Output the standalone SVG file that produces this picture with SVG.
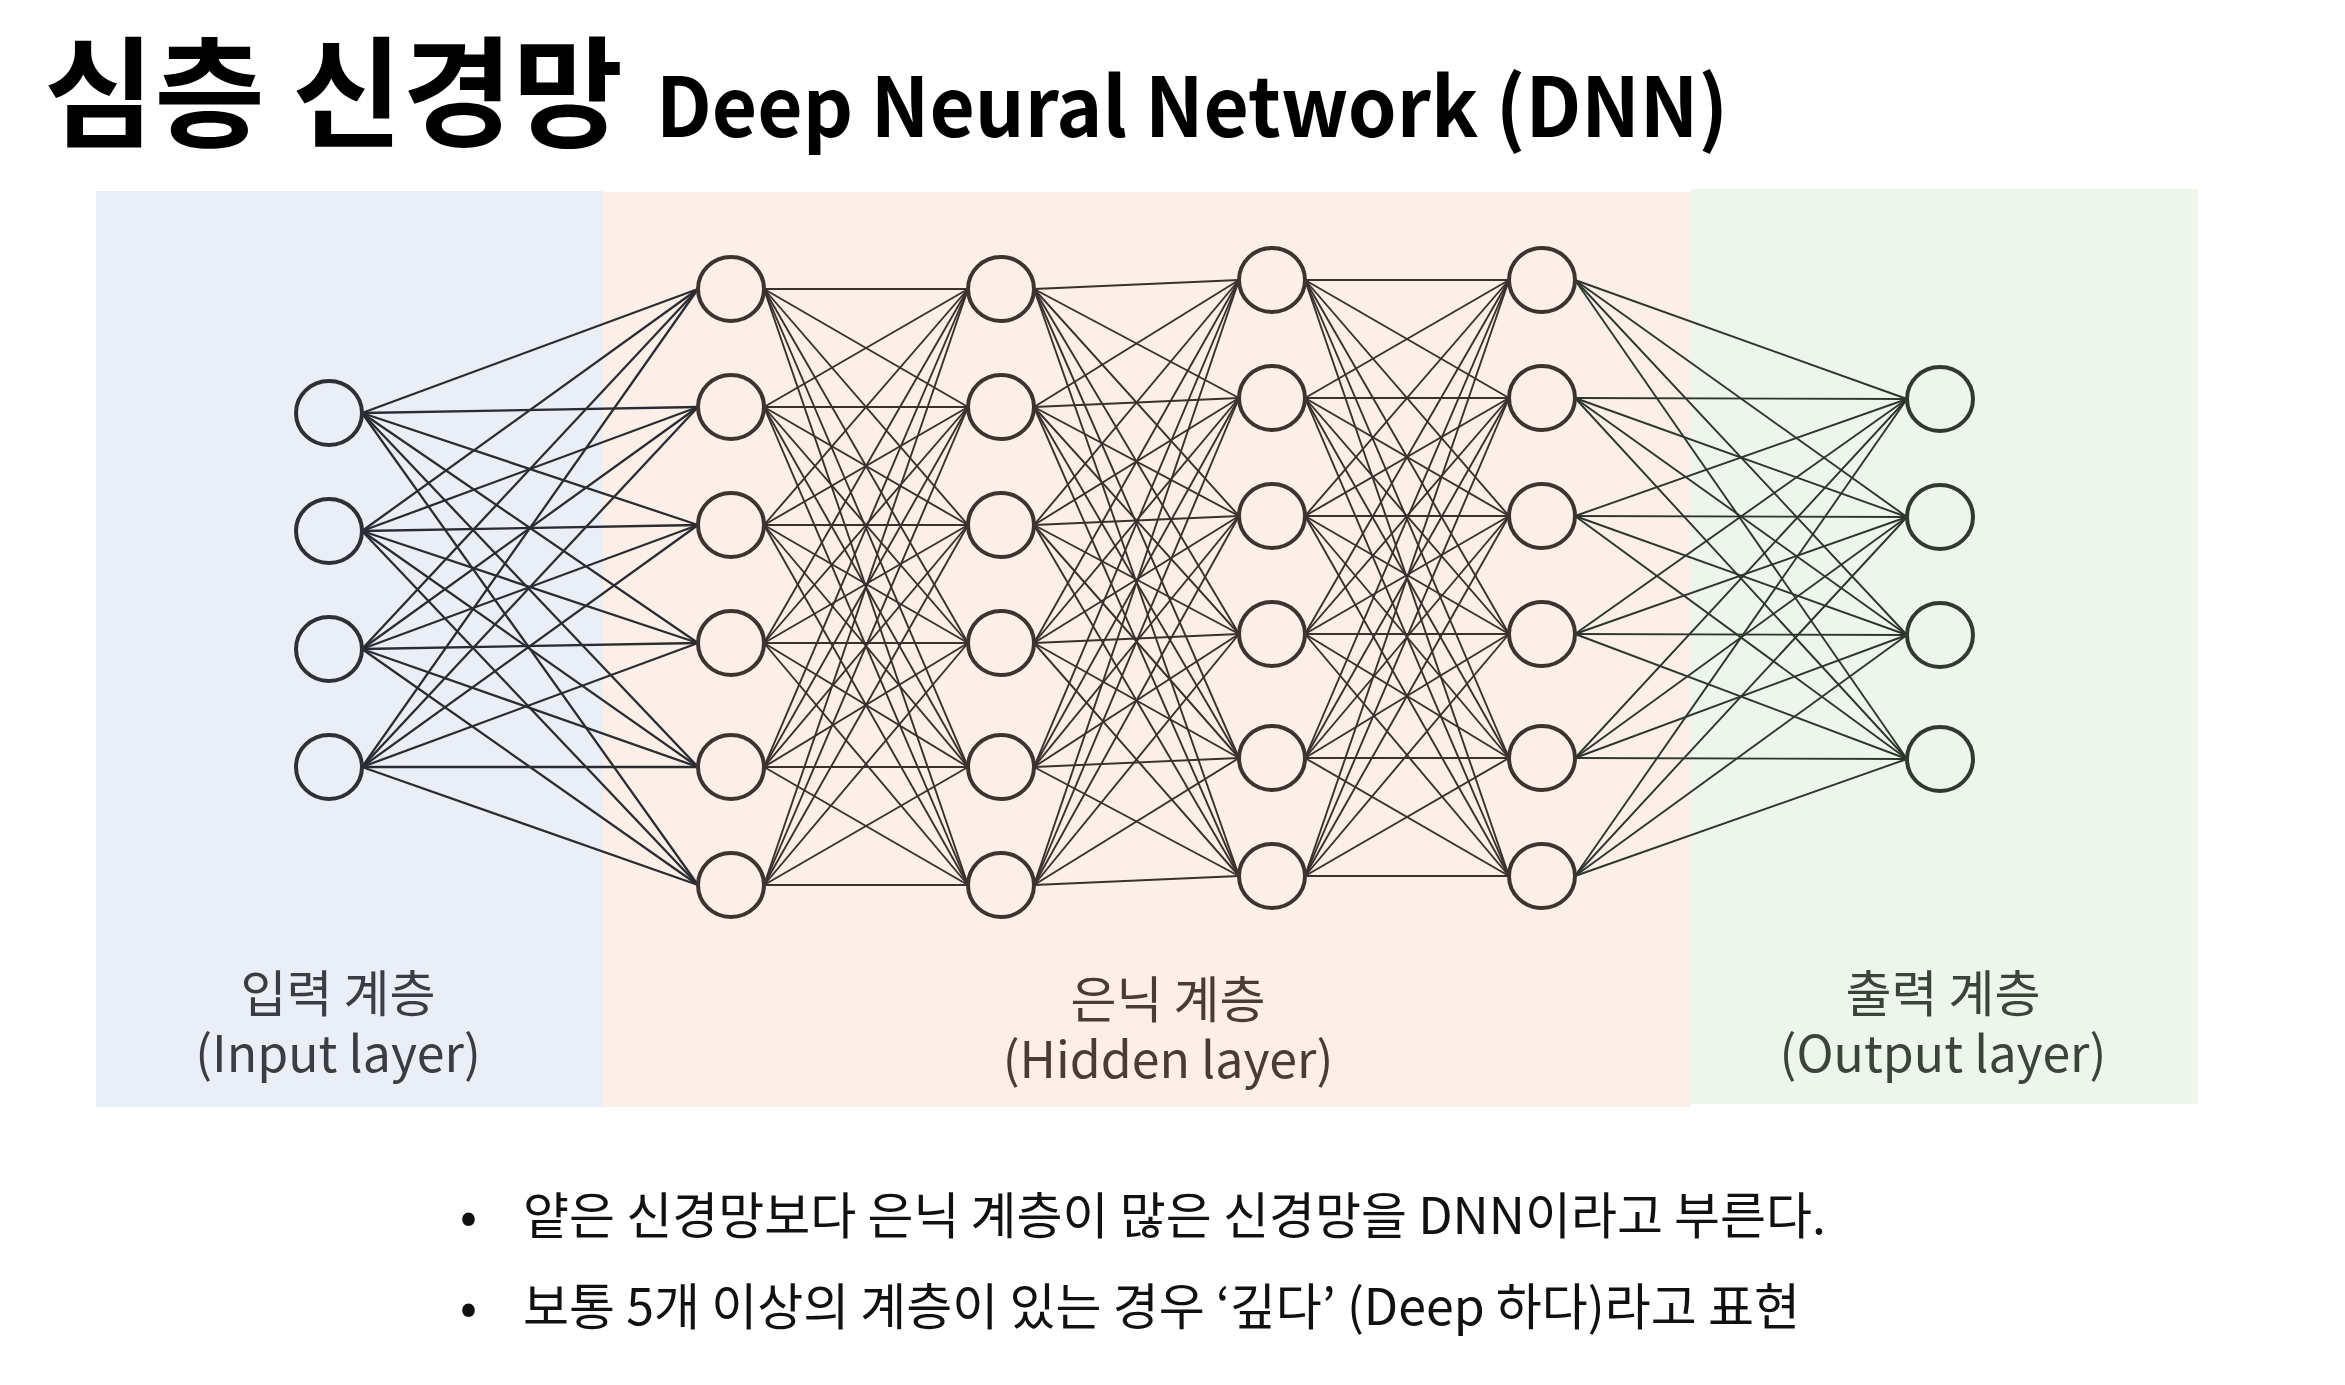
<svg xmlns="http://www.w3.org/2000/svg" width="2345" height="1385" viewBox="0 0 2345 1385">
<style>
.t{font-family:"Noto Sans CJK KR","Noto Sans",sans-serif}
.n1{fill:none;stroke:#2e3036;stroke-width:4}
.n2{fill:none;stroke:#3d3430;stroke-width:4}
.n3{fill:none;stroke:#2f3a30;stroke-width:4}
.e1 path{stroke:#2a2c32;stroke-width:2.3;fill:none}
.e2 path{stroke:#3a312c;stroke-width:1.9;fill:none}
.e3 path{stroke:#2c362d;stroke-width:1.9;fill:none}
.lab{font-size:50px;text-anchor:middle}
.bul{font-size:50px;fill:#111}
</style>
<rect width="2345" height="1385" fill="#ffffff"/>
<g id="panels">
<rect x="96" y="191" width="507" height="916" fill="#EAEEF7"/>
<rect x="603" y="192" width="1088" height="915" fill="#FCEFE7"/>
<rect x="1691" y="189" width="507" height="915" fill="#EEF5EB"/>
</g>
<g id="title" class="t">
<text x="44" y="138" font-size="120" font-weight="700" fill="#000">심층 신경망</text>
<text x="656" y="137" font-size="82" font-weight="700" fill="#000" textLength="1072" lengthAdjust="spacingAndGlyphs">Deep Neural Network (DNN)</text>
</g>
<g id="connectors">
<g class="e1">
<path d="M362 413L698 289"/><path d="M362 413L698 407"/><path d="M362 413L698 525"/><path d="M362 413L698 643"/><path d="M362 413L698 767"/><path d="M362 413L698 885"/>
<path d="M362 531L698 289"/><path d="M362 531L698 407"/><path d="M362 531L698 525"/><path d="M362 531L698 643"/><path d="M362 531L698 767"/><path d="M362 531L698 885"/>
<path d="M362 649L698 289"/><path d="M362 649L698 407"/><path d="M362 649L698 525"/><path d="M362 649L698 643"/><path d="M362 649L698 767"/><path d="M362 649L698 885"/>
<path d="M362 767L698 289"/><path d="M362 767L698 407"/><path d="M362 767L698 525"/><path d="M362 767L698 643"/><path d="M362 767L698 767"/><path d="M362 767L698 885"/>
</g>
<g class="e2">
<path d="M764 289L968 289"/><path d="M764 289L968 407"/><path d="M764 289L968 525"/><path d="M764 289L968 643"/><path d="M764 289L968 767"/><path d="M764 289L968 885"/>
<path d="M764 407L968 289"/><path d="M764 407L968 407"/><path d="M764 407L968 525"/><path d="M764 407L968 643"/><path d="M764 407L968 767"/><path d="M764 407L968 885"/>
<path d="M764 525L968 289"/><path d="M764 525L968 407"/><path d="M764 525L968 525"/><path d="M764 525L968 643"/><path d="M764 525L968 767"/><path d="M764 525L968 885"/>
<path d="M764 643L968 289"/><path d="M764 643L968 407"/><path d="M764 643L968 525"/><path d="M764 643L968 643"/><path d="M764 643L968 767"/><path d="M764 643L968 885"/>
<path d="M764 767L968 289"/><path d="M764 767L968 407"/><path d="M764 767L968 525"/><path d="M764 767L968 643"/><path d="M764 767L968 767"/><path d="M764 767L968 885"/>
<path d="M764 885L968 289"/><path d="M764 885L968 407"/><path d="M764 885L968 525"/><path d="M764 885L968 643"/><path d="M764 885L968 767"/><path d="M764 885L968 885"/>
<path d="M1034 289L1239 280"/><path d="M1034 289L1239 398"/><path d="M1034 289L1239 516"/><path d="M1034 289L1239 634"/><path d="M1034 289L1239 758"/><path d="M1034 289L1239 876"/>
<path d="M1034 407L1239 280"/><path d="M1034 407L1239 398"/><path d="M1034 407L1239 516"/><path d="M1034 407L1239 634"/><path d="M1034 407L1239 758"/><path d="M1034 407L1239 876"/>
<path d="M1034 525L1239 280"/><path d="M1034 525L1239 398"/><path d="M1034 525L1239 516"/><path d="M1034 525L1239 634"/><path d="M1034 525L1239 758"/><path d="M1034 525L1239 876"/>
<path d="M1034 643L1239 280"/><path d="M1034 643L1239 398"/><path d="M1034 643L1239 516"/><path d="M1034 643L1239 634"/><path d="M1034 643L1239 758"/><path d="M1034 643L1239 876"/>
<path d="M1034 767L1239 280"/><path d="M1034 767L1239 398"/><path d="M1034 767L1239 516"/><path d="M1034 767L1239 634"/><path d="M1034 767L1239 758"/><path d="M1034 767L1239 876"/>
<path d="M1034 885L1239 280"/><path d="M1034 885L1239 398"/><path d="M1034 885L1239 516"/><path d="M1034 885L1239 634"/><path d="M1034 885L1239 758"/><path d="M1034 885L1239 876"/>
<path d="M1305 280L1509 280"/><path d="M1305 280L1509 398"/><path d="M1305 280L1509 516"/><path d="M1305 280L1509 634"/><path d="M1305 280L1509 758"/><path d="M1305 280L1509 876"/>
<path d="M1305 398L1509 280"/><path d="M1305 398L1509 398"/><path d="M1305 398L1509 516"/><path d="M1305 398L1509 634"/><path d="M1305 398L1509 758"/><path d="M1305 398L1509 876"/>
<path d="M1305 516L1509 280"/><path d="M1305 516L1509 398"/><path d="M1305 516L1509 516"/><path d="M1305 516L1509 634"/><path d="M1305 516L1509 758"/><path d="M1305 516L1509 876"/>
<path d="M1305 634L1509 280"/><path d="M1305 634L1509 398"/><path d="M1305 634L1509 516"/><path d="M1305 634L1509 634"/><path d="M1305 634L1509 758"/><path d="M1305 634L1509 876"/>
<path d="M1305 758L1509 280"/><path d="M1305 758L1509 398"/><path d="M1305 758L1509 516"/><path d="M1305 758L1509 634"/><path d="M1305 758L1509 758"/><path d="M1305 758L1509 876"/>
<path d="M1305 876L1509 280"/><path d="M1305 876L1509 398"/><path d="M1305 876L1509 516"/><path d="M1305 876L1509 634"/><path d="M1305 876L1509 758"/><path d="M1305 876L1509 876"/>
</g>
<g class="e3">
<path d="M1575 280L1907 399"/><path d="M1575 280L1907 517"/><path d="M1575 280L1907 635"/><path d="M1575 280L1907 759"/>
<path d="M1575 398L1907 399"/><path d="M1575 398L1907 517"/><path d="M1575 398L1907 635"/><path d="M1575 398L1907 759"/>
<path d="M1575 516L1907 399"/><path d="M1575 516L1907 517"/><path d="M1575 516L1907 635"/><path d="M1575 516L1907 759"/>
<path d="M1575 634L1907 399"/><path d="M1575 634L1907 517"/><path d="M1575 634L1907 635"/><path d="M1575 634L1907 759"/>
<path d="M1575 758L1907 399"/><path d="M1575 758L1907 517"/><path d="M1575 758L1907 635"/><path d="M1575 758L1907 759"/>
<path d="M1575 876L1907 399"/><path d="M1575 876L1907 517"/><path d="M1575 876L1907 635"/><path d="M1575 876L1907 759"/>
</g>
</g>
<g id="nodes">
<g id="in1"><ellipse class="n1" cx="329" cy="413" rx="33" ry="32"/></g>
<g id="in2"><ellipse class="n1" cx="329" cy="531" rx="33" ry="32"/></g>
<g id="in3"><ellipse class="n1" cx="329" cy="649" rx="33" ry="32"/></g>
<g id="in4"><ellipse class="n1" cx="329" cy="767" rx="33" ry="32"/></g>
<g id="h1n1"><ellipse class="n2" cx="731" cy="289" rx="33" ry="32"/></g>
<g id="h1n2"><ellipse class="n2" cx="731" cy="407" rx="33" ry="32"/></g>
<g id="h1n3"><ellipse class="n2" cx="731" cy="525" rx="33" ry="32"/></g>
<g id="h1n4"><ellipse class="n2" cx="731" cy="643" rx="33" ry="32"/></g>
<g id="h1n5"><ellipse class="n2" cx="731" cy="767" rx="33" ry="32"/></g>
<g id="h1n6"><ellipse class="n2" cx="731" cy="885" rx="33" ry="32"/></g>
<g id="h2n1"><ellipse class="n2" cx="1001" cy="289" rx="33" ry="32"/></g>
<g id="h2n2"><ellipse class="n2" cx="1001" cy="407" rx="33" ry="32"/></g>
<g id="h2n3"><ellipse class="n2" cx="1001" cy="525" rx="33" ry="32"/></g>
<g id="h2n4"><ellipse class="n2" cx="1001" cy="643" rx="33" ry="32"/></g>
<g id="h2n5"><ellipse class="n2" cx="1001" cy="767" rx="33" ry="32"/></g>
<g id="h2n6"><ellipse class="n2" cx="1001" cy="885" rx="33" ry="32"/></g>
<g id="h3n1"><ellipse class="n2" cx="1272" cy="280" rx="33" ry="32"/></g>
<g id="h3n2"><ellipse class="n2" cx="1272" cy="398" rx="33" ry="32"/></g>
<g id="h3n3"><ellipse class="n2" cx="1272" cy="516" rx="33" ry="32"/></g>
<g id="h3n4"><ellipse class="n2" cx="1272" cy="634" rx="33" ry="32"/></g>
<g id="h3n5"><ellipse class="n2" cx="1272" cy="758" rx="33" ry="32"/></g>
<g id="h3n6"><ellipse class="n2" cx="1272" cy="876" rx="33" ry="32"/></g>
<g id="h4n1"><ellipse class="n2" cx="1542" cy="280" rx="33" ry="32"/></g>
<g id="h4n2"><ellipse class="n2" cx="1542" cy="398" rx="33" ry="32"/></g>
<g id="h4n3"><ellipse class="n2" cx="1542" cy="516" rx="33" ry="32"/></g>
<g id="h4n4"><ellipse class="n2" cx="1542" cy="634" rx="33" ry="32"/></g>
<g id="h4n5"><ellipse class="n2" cx="1542" cy="758" rx="33" ry="32"/></g>
<g id="h4n6"><ellipse class="n2" cx="1542" cy="876" rx="33" ry="32"/></g>
<g id="out1"><ellipse class="n3" cx="1940" cy="399" rx="33" ry="32"/></g>
<g id="out2"><ellipse class="n3" cx="1940" cy="517" rx="33" ry="32"/></g>
<g id="out3"><ellipse class="n3" cx="1940" cy="635" rx="33" ry="32"/></g>
<g id="out4"><ellipse class="n3" cx="1940" cy="759" rx="33" ry="32"/></g>
</g>
<g id="labels" class="t">
<text class="lab" x="338" y="1012" fill="#3a3d44">입력 계층</text>
<text class="lab" x="338" y="1072" fill="#3a3d44">(Input layer)</text>
<text class="lab" x="1168" y="1018" fill="#4a3c35">은닉 계층</text>
<text class="lab" x="1168" y="1078" fill="#4a3c35">(Hidden layer)</text>
<text class="lab" x="1943" y="1012" fill="#3a4438">출력 계층</text>
<text class="lab" x="1943" y="1072" fill="#3a4438">(Output layer)</text>
</g>
<g id="bullets" class="t">
<text class="bul" x="460" y="1234">•</text>
<text class="bul" x="523" y="1234">얕은 신경망보다 은닉 계층이 많은 신경망을 DNN이라고 부른다.</text>
<text class="bul" x="460" y="1325">•</text>
<text class="bul" x="523" y="1325">보통 5개 이상의 계층이 있는 경우 ‘깊다’ (Deep 하다)라고 표현</text>
</g>
</svg>
